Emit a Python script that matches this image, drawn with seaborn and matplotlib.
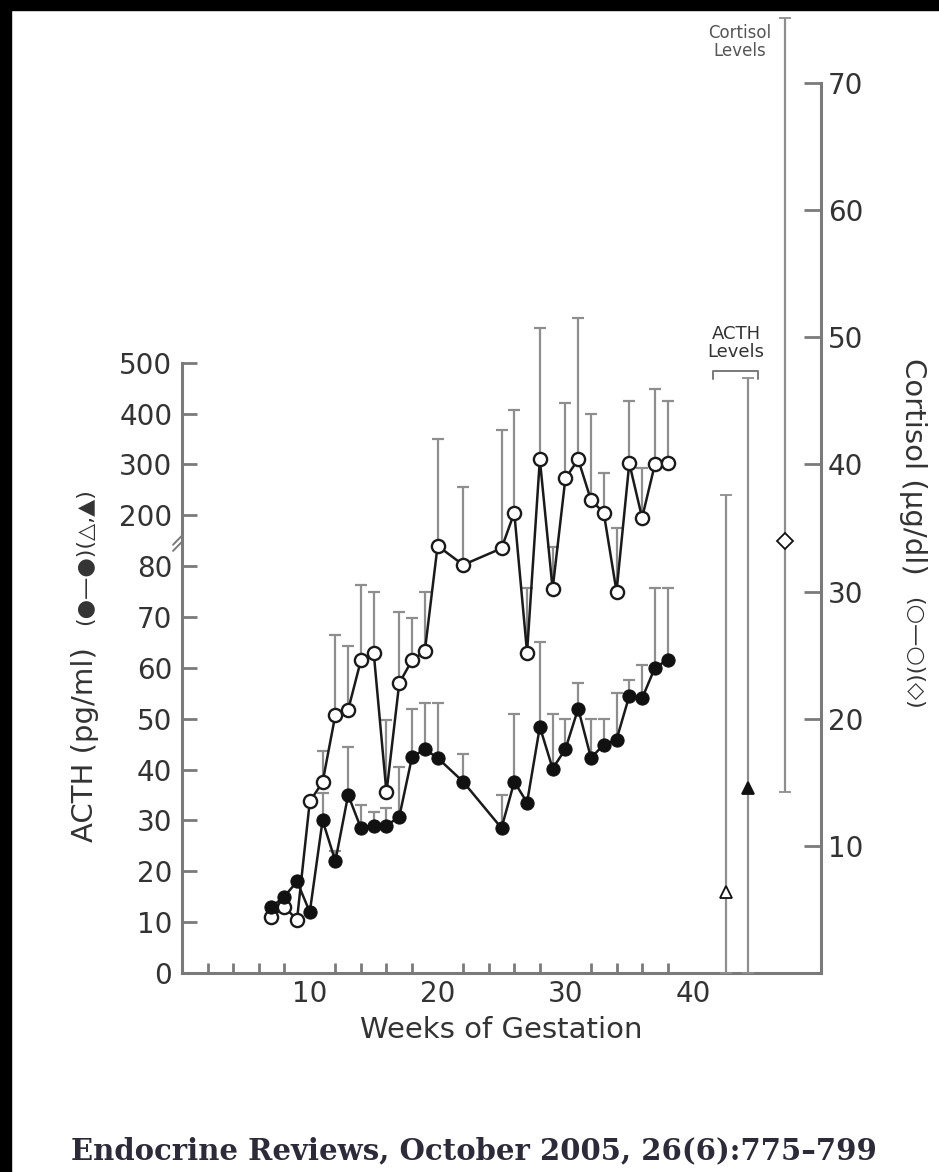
import numpy as np
import pandas as pd
import matplotlib
matplotlib.use('Agg')
import matplotlib.pyplot as plt
import seaborn as sns
from matplotlib.lines import Line2D
from matplotlib.patches import Rectangle

# data
weeks = [7, 8, 9, 10, 11, 12, 13, 14, 15, 16, 17, 18, 19, 20, 22, 25, 26, 27, 28,
         29, 30, 31, 32, 33, 34, 35, 36, 37, 38]
acth = [13, 15, 18, 12, 30, 22, 35, 28.5, 29, 29, 30.7, 42.5, 44, 42.3, 37.6, 28.5,
        37.6, 33.5, 48.4, 40.2, 44, 52, 42.3, 44.9, 45.9, 54.5, 54, 60, 61.6]
acth_upper = [13, 15, 18, 12, 35.4, 24, 44.5, 33, 31.7, 32.5, 40.5, 52, 53, 53, 43, 35,
              51, 33.5, 65, 51, 50, 57, 50, 50, 55, 57.7, 60.6, 75.8, 75.8]
cortisol = [4.4, 5.2, 4.2, 13.5, 15, 20.3, 20.7, 24.6, 25.2, 14.2, 22.8, 24.6, 25.3,
            33.6, 32.1, 33.4, 36.2, 25.2, 40.4, 30.2, 38.9, 40.4, 37.2, 36.2, 30,
            40.1, 35.8, 40, 40.1]
cortisol_upper = [4.4, 5.2, 4.2, 13.5, 17.5, 26.6, 25.7, 30.5, 30, 19.9, 28.4, 27.9, 30,
                  42, 38.2, 42.7, 44.3, 30.3, 50.7, 33.5, 44.8, 51.5, 44, 39.3, 35,
                  45, 39.7, 45.9, 45]

# adult reference values (ACTH levels, cortisol levels)
term_acth_x = [42.6, 44.3]
term_acth = [16, 36.4]
term_acth_upper = [240, 470]
term_cort_x = [47.2]
term_cort = [34]
term_cort_lower = [14.2]
term_cort_upper = [75.1]

acth_ticks = [0, 10, 20, 30, 40, 50, 60, 70, 80, 200, 300, 400, 500]
cort_ticks = [10, 20, 30, 40, 50, 60, 70]
week_ticks = [10, 20, 30, 40]


def acth_scale(v):
    # broken axis: linear up to 80, then 100 pg/ml per 10 units above 200
    v = np.asarray(v, dtype=float)
    return np.where(v <= 80, v, 70 + v / 10)


def fx(px):
    return px / 939


def fy(py):
    return 1 - py / 1172


sns.set_theme(style='white')
plt.rcParams['font.family'] = ['DejaVu Sans']
txt = '#333333'
spine_c = '#7a7a7a'
err_c = '#8e8e8e'

fig = plt.figure(figsize=(9.39, 11.72), dpi=100)
fig.patch.set_facecolor('white')
fig.add_artist(Rectangle((0, fy(10)), 1, 10 / 1172, transform=fig.transFigure,
                         color='black', zorder=10))
fig.add_artist(Rectangle((0, 0), 11 / 939, 1, transform=fig.transFigure,
                         color='black', zorder=10))

ax = fig.add_axes([fx(182), fy(973), 639 / 939, 890 / 1172])
ax2 = ax.twinx()
ax.set_zorder(ax2.get_zorder() + 1)
ax.patch.set_visible(False)

df = pd.DataFrame({'week': weeks, 'acth': acth_scale(acth),
                   'acth_up': acth_scale(acth_upper),
                   'cort': cortisol, 'cort_up': cortisol_upper})

# error bars (upper only)
ea = df[df['acth_up'] > df['acth']]
ax.errorbar(ea['week'], ea['acth'], yerr=[np.zeros(len(ea)), ea['acth_up'] - ea['acth']],
            fmt='none', ecolor=err_c, elinewidth=1.6, capsize=4, capthick=1.6, zorder=1)
ec = df[df['cort_up'] > df['cort']]
ax2.errorbar(ec['week'], ec['cort'], yerr=[np.zeros(len(ec)), ec['cort_up'] - ec['cort']],
             fmt='none', ecolor=err_c, elinewidth=1.6, capsize=4, capthick=1.6, zorder=1)

sns.lineplot(data=df, x='week', y='cort', ax=ax2, color='#1a1a1a', lw=1.8,
             marker='o', markersize=9.5, markerfacecolor='white',
             markeredgecolor='#1a1a1a', markeredgewidth=1.7, zorder=3)
sns.lineplot(data=df, x='week', y='acth', ax=ax, color='#1a1a1a', lw=1.8,
             marker='o', markersize=9.5, markerfacecolor='#111111',
             markeredgecolor='#111111', zorder=3)

# adult levels
ta = acth_scale(term_acth)
tu = acth_scale(term_acth_upper)
for xv, yv, up, mk, fc in zip(term_acth_x, ta, tu, ['^', '^'], ['white', '#111111']):
    ax.errorbar([xv], [yv], yerr=[[yv], [up - yv]], fmt=mk, color='#111111',
                ecolor=err_c, elinewidth=1.6, capsize=4, capthick=1.6,
                markersize=9, markerfacecolor=fc, markeredgecolor='#111111',
                markeredgewidth=1.3, zorder=3)
c = ax2.errorbar(term_cort_x, term_cort,
                 yerr=[[term_cort[0] - term_cort_lower[0]], [term_cort_upper[0] - term_cort[0]]],
                 fmt='D', color='#111111', ecolor=err_c, elinewidth=1.6, capsize=4,
                 capthick=1.6, markersize=8.5, markerfacecolor='white',
                 markeredgecolor='#111111', markeredgewidth=1.3, zorder=3)
for art in c.lines[1] + c.lines[2] + (c.lines[0],):
    art.set_clip_on(False)

# axes styling
ax.set_xlim(0, 50)
ax.set_ylim(0, 175)
ax2.set_ylim(0, 70)
ax.set_xlabel('Weeks of Gestation', fontsize=21, color=txt, labelpad=6)
ax.set_ylabel('')
ax2.set_ylabel('')

for a in (ax, ax2):
    for s in a.spines.values():
        s.set_visible(False)
ax.spines['left'].set_visible(True)
ax.spines['bottom'].set_visible(True)
ax2.spines['right'].set_visible(True)
for s in (ax.spines['left'], ax.spines['bottom'], ax2.spines['right']):
    s.set_color(spine_c)
    s.set_linewidth(2.2)
ax.spines['left'].set_bounds(0, float(acth_scale(500)))
ax2.spines['right'].set_bounds(0, 70)

ax.set_xticks(week_ticks)
ax.set_xticks([w for w in range(2, 41, 2) if w % 10], minor=True)
ax.set_yticks(acth_scale(acth_ticks))
ax.set_yticklabels([str(t) for t in acth_ticks])
ax2.set_yticks(cort_ticks)
ax.tick_params(axis='x', which='major', direction='in', length=11.5, width=2,
               color=spine_c, labelsize=20, labelcolor=txt, pad=5)
ax.tick_params(axis='x', which='minor', direction='in', length=7, width=2,
               color=spine_c, bottom=True)
ax.tick_params(axis='y', direction='in', length=11, width=2, color=spine_c,
               labelsize=20, labelcolor=txt, pad=7)
ax2.tick_params(axis='y', direction='in', length=12, width=2, color=spine_c,
                labelsize=20, labelcolor=txt, pad=5)
ax.grid(False)
ax2.grid(False)

# break mark on the ACTH axis
for dy in (-0.6, 0.6):
    ax.plot([-0.014, 0.0], [84.5 + dy - 0.9, 84.5 + dy + 0.9],
            transform=ax.get_yaxis_transform(), color=spine_c, lw=1.4, clip_on=False)

# axis labels built from text pieces
fig.text(fx(85), fy(745), 'ACTH (pg/ml)', rotation=90, ha='center', va='center',
         fontsize=21, color=txt)
fig.text(fx(85), fy(557), '(\u25cf\u2014\u25cf)(\u25b3,\u25b2)', rotation=90,
         ha='center', va='center', fontsize=16, color=txt)
fig.text(fx(913), fy(466), 'Cortisol (\u00b5g/dl)', rotation=270, ha='center',
         va='center', fontsize=21, color=txt)
fig.text(fx(913), fy(653), '(\u25cb\u2014\u25cb)(\u25c7)', rotation=270, ha='center',
         va='center', fontsize=16, color=txt)

# reference annotations
fig.text(fx(736), fy(343), 'ACTH\nLevels', ha='center', va='center', fontsize=13,
         color=txt, linespacing=0.95)
fig.add_artist(Line2D([fx(713), fx(713), fx(758), fx(758)],
                      [fy(379), fy(371), fy(371), fy(379)], color=spine_c, lw=1.4))
fig.text(fx(740), fy(42), 'Cortisol\nLevels', ha='center', va='center', fontsize=12,
         color='#555555', linespacing=0.95)

fig.text(fx(474), fy(1151), 'Endocrine Reviews, October 2005, 26(6):775\u2013799',
         ha='center', va='center', family='DejaVu Serif', fontsize=21,
         fontweight='bold', color='#2d2b3a')

fig.savefig('out.png', dpi=100, facecolor='white')
